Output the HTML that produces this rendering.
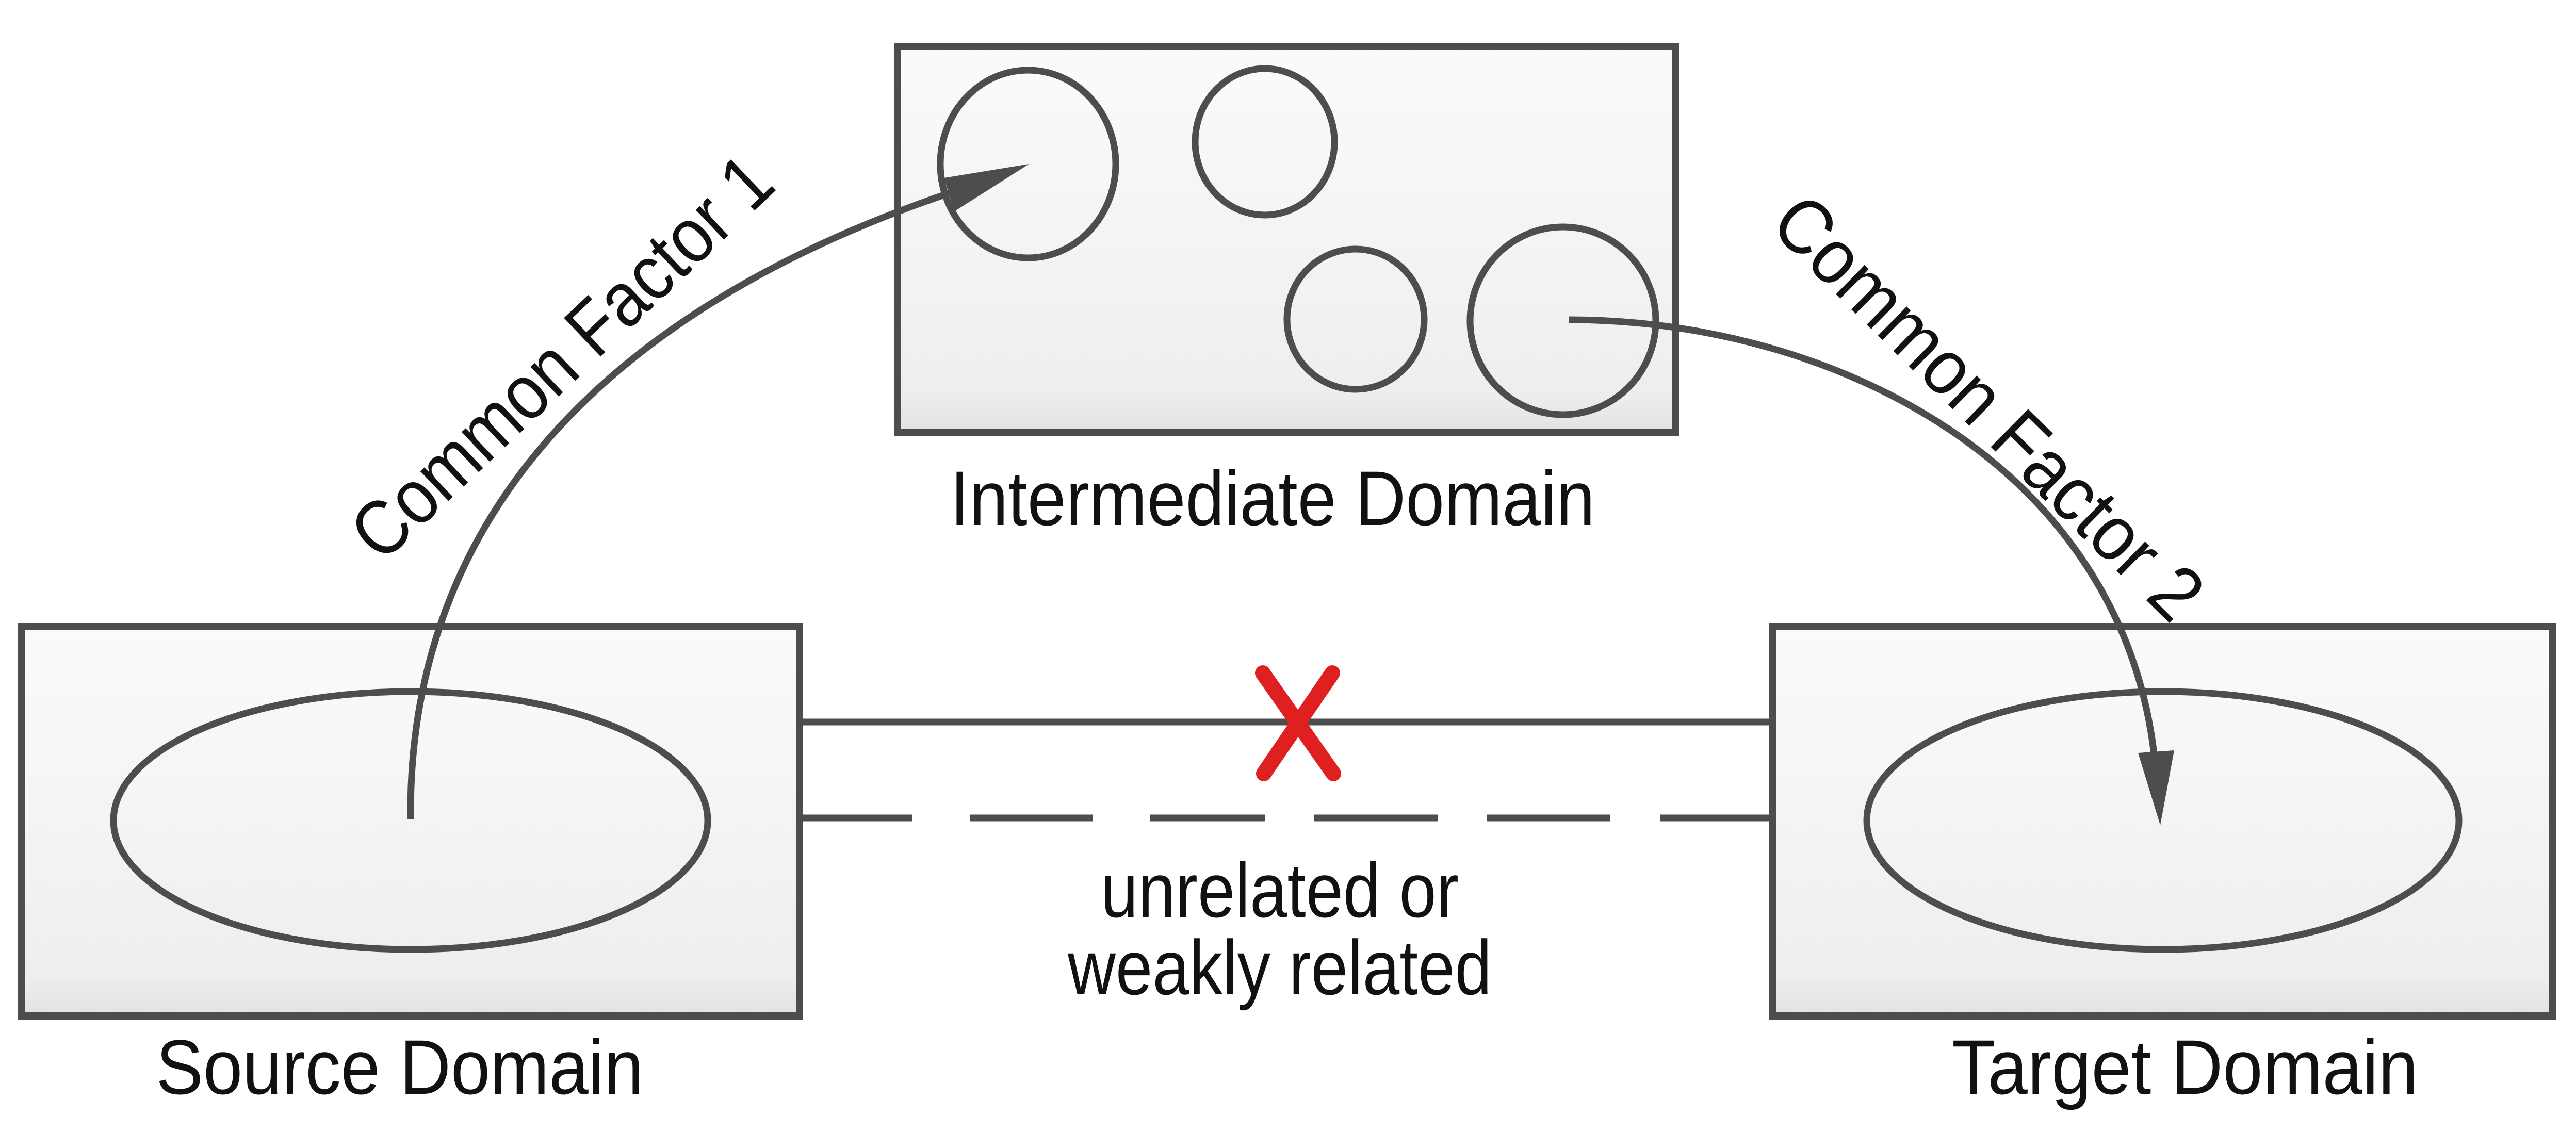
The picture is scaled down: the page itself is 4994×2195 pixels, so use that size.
<!DOCTYPE html>
<html><head><meta charset="utf-8"><style>html,body{margin:0;padding:0;background:#fff}svg{display:block}</style></head>
<body>
<svg width="4994" height="2195" viewBox="0 0 4994 2195" xmlns="http://www.w3.org/2000/svg" font-family="Liberation Sans, sans-serif">
<defs>
<linearGradient id="g" x1="0" y1="0" x2="0" y2="1">
<stop offset="0" stop-color="#fbfbfb"/><stop offset="0.9" stop-color="#eeeeee"/><stop offset="1" stop-color="#e2e2e2"/>
</linearGradient>
</defs>
<g stroke="#4d4d4d" stroke-width="14" fill="url(#g)">
<rect x="1740" y="90" width="1508" height="748"/>
<rect x="42" y="1215" width="1508" height="755"/>
<rect x="3437" y="1215" width="1512" height="755"/>
</g>
<g stroke="#4d4d4d" stroke-width="13" fill="none">
<ellipse cx="1993" cy="318" rx="170" ry="182"/>
<ellipse cx="2452" cy="275" rx="135" ry="142"/>
<ellipse cx="2628" cy="619" rx="133" ry="136"/>
<ellipse cx="3030" cy="622" rx="180" ry="182"/>
<ellipse cx="796" cy="1591" rx="576" ry="250"/>
<ellipse cx="4193" cy="1591" rx="574" ry="250"/>
<line x1="1554" y1="1400" x2="3433" y2="1400"/>
<path d="M1554 1586 H1768 M1880 1586 H2118 M2230 1586 H2452 M2548 1586 H2787 M2883 1586 H3122 M3218 1586 H3433"/>
<path d="M796 1589 C 790 950, 1250 560, 1900 355"/>
<path d="M3042 620 C 3550 620, 4120 900, 4178 1480"/>
</g>
<polygon points="1995,318 1830,345 1850,410" fill="#4d4d4d"/>
<polygon points="4188,1600 4145,1460 4215,1455" fill="#4d4d4d"/>
<g stroke="#e02020" stroke-width="30" stroke-linecap="round">
<line x1="2448" y1="1305" x2="2585" y2="1500"/>
<line x1="2583" y1="1305" x2="2450" y2="1500"/>
</g>
<g fill="#111" font-size="150">
<text x="2467" y="1018" text-anchor="middle" textLength="1250" lengthAdjust="spacingAndGlyphs">Intermediate  Domain</text>
<text x="775" y="2121" text-anchor="middle" textLength="945" lengthAdjust="spacingAndGlyphs">Source  Domain</text>
<text x="4236" y="2121" text-anchor="middle" textLength="904" lengthAdjust="spacingAndGlyphs">Target  Domain</text>
<text x="2481" y="1778" text-anchor="middle" textLength="694" lengthAdjust="spacingAndGlyphs">unrelated or</text>
<text x="2481" y="1928" text-anchor="middle" textLength="822" lengthAdjust="spacingAndGlyphs">weakly related</text>
<text transform="translate(1090,693) rotate(-43.5)" x="0" y="50" text-anchor="middle" textLength="1060" lengthAdjust="spacingAndGlyphs">Common Factor 1</text>
<text transform="translate(3854,791) rotate(44.6)" x="0" y="50" text-anchor="middle" textLength="1100" lengthAdjust="spacingAndGlyphs">Common Factor 2</text>
</g>
</svg>
</body></html>
